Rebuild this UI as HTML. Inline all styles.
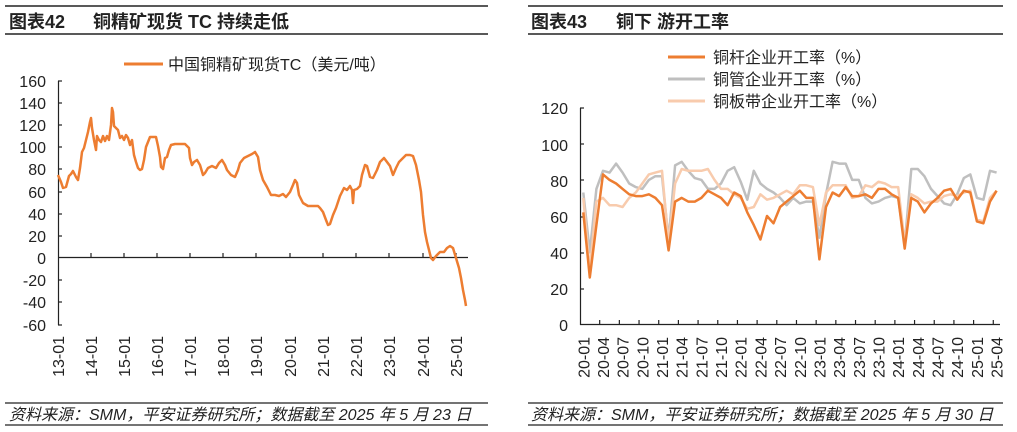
<!DOCTYPE html>
<html><head><meta charset="utf-8"><style>
body{margin:0;background:#fff;}
svg{display:block;font-family:"Liberation Sans","Noto Sans CJK SC",sans-serif;}
</style></head><body>
<svg width="1017" height="432" viewBox="0 0 1017 432" xmlns="http://www.w3.org/2000/svg">
<!-- Left panel header -->
<line x1="5" y1="6" x2="488" y2="6" stroke="#222" stroke-width="1.5"/>
<line x1="5" y1="34" x2="488" y2="34" stroke="#222" stroke-width="1.5"/>
<text x="9" y="28" font-size="18" font-weight="bold" fill="#222">图表42</text>
<text x="93" y="28" font-size="18" font-weight="bold" fill="#222">铜精矿现货 TC 持续走低</text>
<line x1="5" y1="403" x2="488" y2="403" stroke="#222" stroke-width="1.2"/>
<line x1="5" y1="425" x2="488" y2="425" stroke="#222" stroke-width="1.2"/>
<text x="9" y="420" font-size="16" font-style="italic" fill="#222">资料来源：SMM，平安证券研究所；数据截至 2025 年 5 月 23 日</text>
<!-- Right panel header -->
<line x1="528" y1="6" x2="1003" y2="6" stroke="#222" stroke-width="1.5"/>
<line x1="528" y1="34" x2="1003" y2="34" stroke="#222" stroke-width="1.5"/>
<text x="531" y="28" font-size="18" font-weight="bold" fill="#222">图表43</text>
<text x="616" y="28" font-size="18" font-weight="bold" fill="#222">铜下 游开工率</text>
<line x1="528" y1="403" x2="1003" y2="403" stroke="#222" stroke-width="1.2"/>
<line x1="528" y1="425" x2="1003" y2="425" stroke="#222" stroke-width="1.2"/>
<text x="531" y="420" font-size="16" font-style="italic" fill="#222">资料来源：SMM，平安证券研究所；数据截至 2025 年 5 月 30 日</text>

<!-- Left chart -->
<line x1="124" y1="64" x2="163" y2="64" stroke="#ED7D31" stroke-width="3"/>
<text x="168" y="70" font-size="16" fill="#222">中国铜精矿现货TC（美元/吨）</text>
<g font-size="16" fill="#222" text-anchor="end">
<text x="46" y="87">160</text><text x="46" y="109">140</text><text x="46" y="131">120</text>
<text x="46" y="153">100</text><text x="46" y="175">80</text><text x="46" y="198">60</text>
<text x="46" y="220">40</text><text x="46" y="242">20</text><text x="46" y="264">0</text>
<text x="46" y="286">-20</text><text x="46" y="308">-40</text><text x="46" y="331">-60</text>
</g>
<g stroke="#222" stroke-width="1.2">
<line x1="58.5" y1="81" x2="58.5" y2="325"/>
<line x1="58" y1="81" x2="62" y2="81"/><line x1="58" y1="103" x2="62" y2="103"/><line x1="58" y1="125" x2="62" y2="125"/><line x1="58" y1="147" x2="62" y2="147"/><line x1="58" y1="169" x2="62" y2="169"/><line x1="58" y1="192" x2="62" y2="192"/><line x1="58" y1="214" x2="62" y2="214"/><line x1="58" y1="236" x2="62" y2="236"/><line x1="58" y1="280" x2="62" y2="280"/><line x1="58" y1="302" x2="62" y2="302"/><line x1="58" y1="325" x2="62" y2="325"/>
<line x1="58" y1="257.5" x2="468" y2="257.5"/>
<line x1="91" y1="253" x2="91" y2="257"/><line x1="124" y1="253" x2="124" y2="257"/><line x1="157" y1="253" x2="157" y2="257"/><line x1="190" y1="253" x2="190" y2="257"/><line x1="223" y1="253" x2="223" y2="257"/><line x1="256" y1="253" x2="256" y2="257"/><line x1="290" y1="253" x2="290" y2="257"/><line x1="323" y1="253" x2="323" y2="257"/><line x1="356" y1="253" x2="356" y2="257"/><line x1="389" y1="253" x2="389" y2="257"/><line x1="423" y1="253" x2="423" y2="257"/><line x1="456" y1="253" x2="456" y2="257"/>
</g>
<g font-size="16" fill="#222" text-anchor="end">
<text transform="translate(64,336) rotate(-90)">13-01</text>
<text transform="translate(97,336) rotate(-90)">14-01</text>
<text transform="translate(130,336) rotate(-90)">15-01</text>
<text transform="translate(163,336) rotate(-90)">16-01</text>
<text transform="translate(196,336) rotate(-90)">17-01</text>
<text transform="translate(229,336) rotate(-90)">18-01</text>
<text transform="translate(262,336) rotate(-90)">19-01</text>
<text transform="translate(296,336) rotate(-90)">20-01</text>
<text transform="translate(329,336) rotate(-90)">21-01</text>
<text transform="translate(362,336) rotate(-90)">22-01</text>
<text transform="translate(395,336) rotate(-90)">23-01</text>
<text transform="translate(429,336) rotate(-90)">24-01</text>
<text transform="translate(462,336) rotate(-90)">25-01</text>
</g>
<polyline fill="none" stroke="#ED7D31" stroke-width="2.5" stroke-linejoin="round" points="58,175 61,182 63,188 66,187 69,176 71,174 73,171 76,177 78,180 80,168 82,152 84,148 86,140 88,132 90,122 91,118 92,128 94,140 96,150 97,136 99,140 101,142 103,136 105,141 107,136 109,140 111,125 112,108 113,112 114,126 116,128 118,130 120,138 122,136 124,140 126,135 128,138 130,145 132,140 134,155 136,162 138,168 140,170 142,169 144,160 146,147 148,142 150,137 152,137 156,137 158,146 160,157 161,167 163,169 165,158 167,157 169,150 171,145 175,144 185,144 189,148 190,158 192,165 194,162 197,160 200,165 203,175 205,173 208,168 212,166 216,168 219,163 222,160 225,165 227,170 231,175 235,177 238,170 240,163 244,158 248,156 252,154 255,152 258,157 260,170 263,180 267,187 271,195 275,195 279,196 283,194 286,197 290,192 293,185 295,180 297,183 299,195 303,203 308,206 312,206 318,206 320,208 323,212 326,220 328,225 330,224 333,215 336,208 338,202 340,196 344,188 347,190 350,186 352,190 353,203 354,190 357,189 360,186 362,175 365,165 367,166 370,177 373,178 377,170 380,162 384,158 387,162 390,166 393,175 396,168 399,162 403,158 406,155 410,155 413,156 416,165 419,180 421,192 423,215 425,232 427,242 429,250 431,258 433,260 436,256 440,252 444,252 447,248 450,246 453,248 456,258 459,268 461,278 463,290 465,300 466,306"/>

<!-- Right chart -->
<line x1="668" y1="57" x2="705" y2="57" stroke="#ED7D31" stroke-width="3"/>
<line x1="668" y1="79" x2="705" y2="79" stroke="#BFBFBF" stroke-width="3"/>
<line x1="668" y1="101" x2="705" y2="101" stroke="#F8CBAD" stroke-width="3"/>
<g font-size="16" fill="#222">
<text x="713" y="63">铜杆企业开工率（%）</text>
<text x="713" y="85">铜管企业开工率（%）</text>
<text x="713" y="107">铜板带企业开工率（%）</text>
</g>
<g font-size="16" fill="#222" text-anchor="end">
<text x="568" y="114">120</text><text x="568" y="151">100</text><text x="568" y="187">80</text>
<text x="568" y="223">60</text><text x="568" y="259">40</text><text x="568" y="295">20</text><text x="568" y="331">0</text>
</g>
<g stroke="#222" stroke-width="1.2">
<line x1="580.5" y1="108" x2="580.5" y2="325"/>
<line x1="580" y1="108" x2="584" y2="108"/><line x1="580" y1="144" x2="584" y2="144"/><line x1="580" y1="180" x2="584" y2="180"/><line x1="580" y1="217" x2="584" y2="217"/><line x1="580" y1="253" x2="584" y2="253"/><line x1="580" y1="289" x2="584" y2="289"/>
<line x1="580" y1="324.5" x2="1000" y2="324.5"/>
</g>
<g id="rt" stroke="#222" stroke-width="1.2"></g>
<g id="rl" font-size="16" fill="#222" text-anchor="end"></g>
<g id="rs"></g>
<script>
(function(){
var ns="http://www.w3.org/2000/svg";
var rt=document.getElementById("rt"),rl=document.getElementById("rl"),rs=document.getElementById("rs");
var labs=["20-01","20-04","20-07","20-10","21-01","21-04","21-07","21-10","22-01","22-04","22-07","22-10","23-01","23-04","23-07","23-10","24-01","24-04","24-07","24-10","25-01","25-04"];
var pm=6.56;
for(var k=1;k<=21;k++){var x=580+k*3*pm;var l=document.createElementNS(ns,"line");l.setAttribute("x1",x);l.setAttribute("x2",x);l.setAttribute("y1",320);l.setAttribute("y2",324);rt.appendChild(l);}
labs.forEach(function(s,k){var x=580+(k*3+0.5)*pm+6;var t=document.createElementNS(ns,"text");t.setAttribute("transform","translate("+x+",337) rotate(-90)");t.textContent=s;rl.appendChild(t);});
var A=[62,26,55,83,80,78,75,72,71,71,72,70,66,41,68,70,68,68,70,74,72,70,66,73,71,62,55,47,60,56,65,68,71,74,70,70,36,65,73,71,76,71,71,72,70,75,75,72,70,42,70,68,62,67,70,74,75,69,74,73,57,56,68,74];
var B=[73,40,75,85,84,89,84,78,76,75,80,82,82,47,88,90,85,81,80,75,75,78,85,87,79,69,85,78,75,73,70,66,70,67,68,68,48,72,90,89,89,80,80,70,67,68,70,71,70,44,86,86,82,75,71,67,66,72,81,83,70,69,85,84];
var C=[70,30,68,70,66,66,65,70,73,78,83,84,85,45,78,86,85,85,85,86,80,75,75,72,70,64,65,72,69,70,72,74,72,77,77,76,55,73,77,77,77,70,71,77,76,79,78,76,76,45,72,70,67,68,68,71,72,71,73,74,58,57,70,74];
function pl(d,c){var p=d.map(function(v,i){return (580+(i+0.5)*pm).toFixed(1)+","+(324.5-v*1.808).toFixed(1);}).join(" ");var e=document.createElementNS(ns,"polyline");e.setAttribute("points",p);e.setAttribute("fill","none");e.setAttribute("stroke",c);e.setAttribute("stroke-width","2.5");e.setAttribute("stroke-linejoin","round");rs.appendChild(e);}
pl(B,"#BFBFBF");pl(C,"#F8CBAD");pl(A,"#ED7D31");
})();
</script>
</svg>
</body></html>
